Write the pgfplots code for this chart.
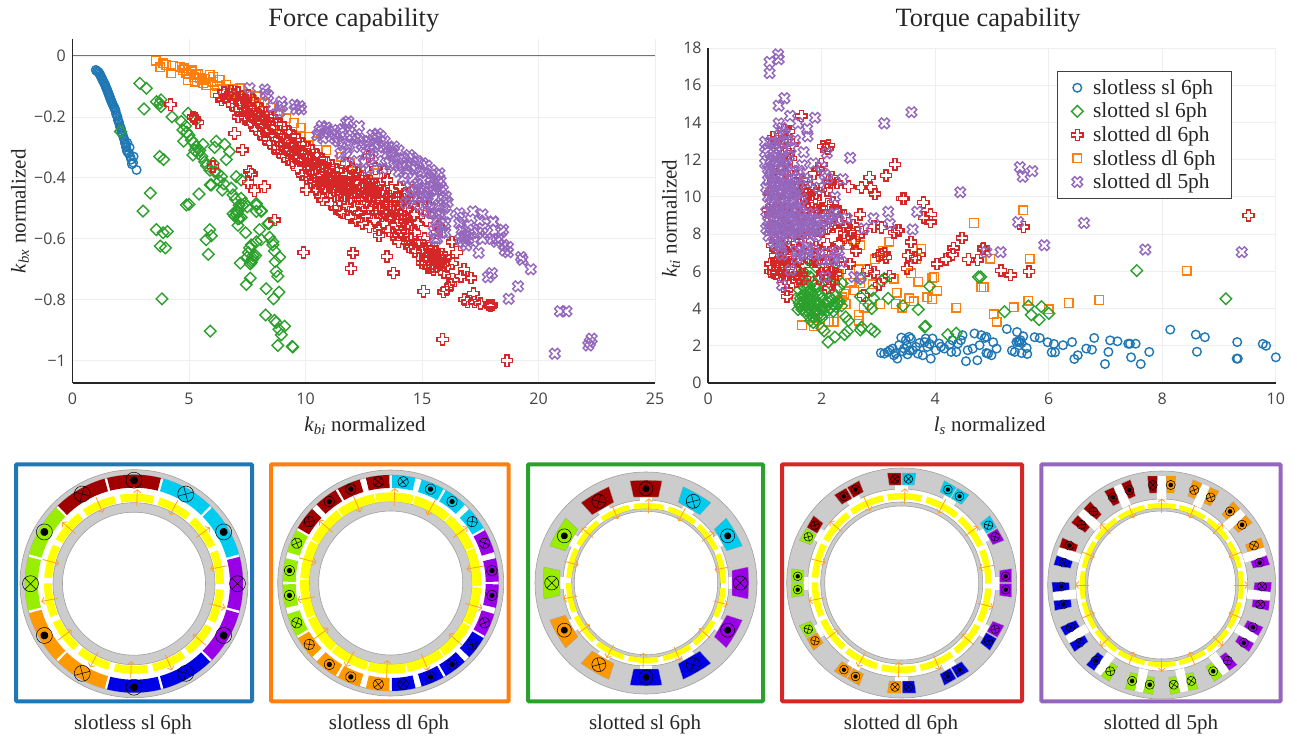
\documentclass[border=0pt]{standalone}
\usepackage{fontspec}
\usepackage{pgfplots}
\pgfplotsset{compat=1.18}
\usetikzlibrary{arrows.meta}
\setmainfont{Liberation Serif}
\newfontfamily\tickfont{Open Sans}
\definecolor{cblue}{HTML}{1F77B4}
\definecolor{cgreen}{HTML}{2CA02C}
\definecolor{cred}{HTML}{D62728}
\definecolor{corange}{HTML}{FF7F0E}
\definecolor{cpurple}{HTML}{9467BD}
\definecolor{gridc}{HTML}{EEEEEE}
\definecolor{tickc}{HTML}{444444}
\definecolor{statg}{HTML}{CCCCCC}
\definecolor{statl}{HTML}{A0A0A0}
\definecolor{magy}{HTML}{FFFF00}
\definecolor{arr}{HTML}{FFA01E}
\definecolor{kr}{HTML}{A00000}
\definecolor{kc}{HTML}{00CCF0}
\definecolor{kl}{HTML}{99EE00}
\definecolor{ko}{HTML}{FF9900}
\definecolor{kb}{HTML}{0000E6}
\definecolor{kp}{HTML}{9900E6}
\pgfdeclareplotmark{ocircle}{\pgfpathcircle{\pgfpointorigin}{4.3pt}\pgfusepathqstroke}
\pgfdeclareplotmark{osquare}{\pgfpathrectanglecorners{\pgfqpoint{-4.3pt}{-4.3pt}}{\pgfqpoint{4.3pt}{4.3pt}}\pgfusepathqstroke}
\pgfdeclareplotmark{odiamond}{\pgfpathmoveto{\pgfqpoint{0pt}{5.8pt}}\pgfpathlineto{\pgfqpoint{5.8pt}{0pt}}\pgfpathlineto{\pgfqpoint{0pt}{-5.8pt}}\pgfpathlineto{\pgfqpoint{-5.8pt}{0pt}}\pgfpathclose\pgfusepathqstroke}
\newcommand{\crosspoly}[2]{\pgfpathmoveto{\pgfqpoint{#2}{#2}}\pgfpathlineto{\pgfqpoint{#2}{#1}}\pgfpathlineto{\pgfqpoint{-#2}{#1}}\pgfpathlineto{\pgfqpoint{-#2}{#2}}\pgfpathlineto{\pgfqpoint{-#1}{#2}}\pgfpathlineto{\pgfqpoint{-#1}{-#2}}\pgfpathlineto{\pgfqpoint{-#2}{-#2}}\pgfpathlineto{\pgfqpoint{-#2}{-#1}}\pgfpathlineto{\pgfqpoint{#2}{-#1}}\pgfpathlineto{\pgfqpoint{#2}{-#2}}\pgfpathlineto{\pgfqpoint{#1}{-#2}}\pgfpathlineto{\pgfqpoint{#1}{#2}}\pgfpathclose\pgfusepathqstroke}
\pgfdeclareplotmark{ocross}{\crosspoly{5.6pt}{2pt}}
\pgfdeclareplotmark{ox}{\pgftransformrotate{45}\crosspoly{5.6pt}{1.9pt}}
\pgfplotsset{
 every axis title shift=0pt,
 sblue/.style={only marks,mark=ocircle,mark options={draw=cblue,line width=1.4pt}},
 sgreen/.style={only marks,mark=odiamond,mark options={draw=cgreen,line width=1.4pt}},
 sred/.style={only marks,mark=ocross,mark options={draw=cred,line width=1.4pt}},
 sorange/.style={only marks,mark=osquare,mark options={draw=corange,line width=1.4pt}},
 spurple/.style={only marks,mark=ox,mark options={draw=cpurple,line width=1.4pt}},
 panel/.style={scale only axis,axis x line=bottom,axis y line=left,axis line style={-,line width=1.7pt,black!85},
  tick style={draw=none},grid=major,major grid style={draw=gridc,line width=.8pt},
  tick label style={font=\tickfont\fontsize{16}{16}\selectfont,text=tickc},
  xtick pos=bottom,ytick pos=left,
  label style={font=\fontsize{21}{23}\selectfont,text=black!85},
  title style={font=\fontsize{26.4}{28}\selectfont,text=black!85,anchor=center},
  xlabel style={anchor=center},ylabel style={anchor=center,rotate=0},
  xticklabel style={yshift=-4pt},yticklabel style={xshift=-1pt}},
}
\newcommand{\ringg}[2]{\filldraw[fill=statg,draw=statl,line width=.6pt,even odd rule] (0,0) circle[radius=#1] (0,0) circle[radius=#2];}
\newcommand{\sect}[5]{\pgfmathsetmacro\sa{#3}\pgfmathsetmacro\sb{#4}\fill[#5] (\sa:#1) arc[start angle=\sa,end angle=\sb,radius=#1] -- (\sb:#2) arc[start angle=\sb,end angle=\sa,radius=#2] -- cycle;}
\newcommand{\coild}[1]{\draw[line width=.5pt,black] (0,0) circle[radius=#1]; \fill[black] (0,0) circle[radius=0.5*#1];}
\newcommand{\coilx}[1]{\draw[line width=.5pt,black] (0,0) circle[radius=#1] (-0.707*#1,-0.707*#1) -- (0.707*#1,0.707*#1) (-0.707*#1,0.707*#1) -- (0.707*#1,-0.707*#1);}
\newcommand{\mk}[4]{\begin{scope}[shift={(#1:#2)},rotate=#1]\csname coil#3\endcsname{#4}\end{scope}}
\newcommand{\magnets}[6]{\pgfmathtruncatemacro\nm{#1-1}
 \foreach \k in {0,...,\nm}{\pgfmathsetmacro\aa{#2+\k*360/#1}
  \sect{#3}{#4}{\aa-#5}{\aa+#5}{magy}}
 \foreach \k in {0,...,\nm}{\pgfmathsetmacro\aa{#2+\k*360/#1}\pgfmathsetmacro\rmid{(#3+#4)/2}\pgfmathtruncatemacro\odd{mod(\k,2)}
  \ifnum\odd=0 \draw[arr,line width=.8pt,-{Straight Barb[length=3pt,width=7pt]}] (\aa:\rmid-#6) -- (\aa:\rmid+#6);
  \else \draw[arr,line width=.8pt,-{Straight Barb[length=3pt,width=7pt]}] (\aa:\rmid+#6) -- (\aa:\rmid-#6);\fi}}
\newcommand{\frameb}[5]{\draw[#5,line width=4pt,rounded corners=1pt] (#1,#3) rectangle (#2,#4);}
\newcommand{\pairfour}[5]{\begin{scope}[rotate=#1]
 \fill[white] (93.5,-6.5) rectangle (98.5,6.5);
 \filldraw[fill=#2,draw=statl,line width=.3pt] (98,.7) -- (110,.7) -- (110,14.3) -- (98,12.5) -- cycle;
 \filldraw[fill=#4,draw=statl,line width=.3pt] (98,-.7) -- (110,-.7) -- (110,-14.3) -- (98,-12.5) -- cycle;
 \begin{scope}[shift={(104,6.7)}]\csname coil#3\endcsname{4.4}\end{scope}
 \begin{scope}[shift={(104,-6.7)}]\csname coil#5\endcsname{4.4}\end{scope}
 \end{scope}}
\newcommand{\pairfive}[5]{\begin{scope}[rotate=#1]
 \fill[white] (86,-4.5) -- (92,-4.5) -- (92,-11) -- (109,-14.5) -- (109,14.5) -- (92,11) -- (92,4.5) -- (86,4.5) -- cycle;
 \filldraw[fill=#2,draw=statl,line width=.3pt] (92,5) -- (109,4.3) -- (109,14.3) -- (92,12.3) -- cycle;
 \filldraw[fill=#4,draw=statl,line width=.3pt] (92,-5) -- (109,-4.3) -- (109,-14.3) -- (92,-12.3) -- cycle;
 \begin{scope}[shift={(100,9)}]\csname coil#3\endcsname{4.6}\end{scope}
 \begin{scope}[shift={(100,-9)}]\csname coil#5\endcsname{4.6}\end{scope}
 \end{scope}}
\begin{document}
\begin{tikzpicture}[x=1pt,y=1pt]
\useasboundingbox (0,0) rectangle (1297,740);
% ================= left panel
\begin{axis}[panel,at={(72.5pt,357pt)},anchor=south west,width=582.5pt,height=343.5pt,
 xmin=0,xmax=25,ymin=-1.0732,ymax=0.054,
 xtick={0,5,10,15,20,25},xticklabels={0,5,10,15,20,25},
 ytick={-1,-0.8,-0.6,-0.4,-0.2,0},yticklabels={−1,−0.8,−0.6,−0.4,−0.2,0},
 title={Force capability},title style={at={(axis description cs:0.483,1.0568)}},
 xlabel={\textit{k}\textsubscript{\textit{bi}} normalized},xlabel style={at={(axis description cs:0.502,-0.1255)}},
 ylabel={\textit{k}\textsubscript{\textit{bx}} normalized},ylabel style={at={(axis description cs:-0.0901,0.5)}},
]
\draw[black!55,line width=1pt] (axis cs:0,0) -- (axis cs:25,0);
% slotless sl 6ph
\addplot[sblue,forget plot] coordinates {(1.00,-.046)(1.05,-.05)(1.10,-.052)(1.14,-.056)(1.18,-.06)(1.2,-.065)(1.24,-.07)(1.27,-.075)(1.3,-.08)(1.33,-.085)(1.37,-.09)(1.4,-.095)(1.42,-.10)(1.45,-.105)(1.48,-.11)(1.5,-.115)(1.53,-.12)(1.55,-.125)(1.58,-.13)(1.6,-.135)(1.62,-.14)(1.65,-.145)(1.68,-.15)(1.7,-.155)(1.73,-.16)(1.76,-.165)(1.8,-.17)(1.82,-.175)(1.85,-.18)(1.87,-.19)(1.9,-.195)(1.93,-.20)(1.95,-.21)(1.98,-.215)(2.0,-.22)(2.03,-.23)(2.06,-.235)(2.08,-.24)(2.1,-.25)(2.13,-.255)(2.16,-.26)(2.2,-.27)(2.23,-.275)(2.25,-.285)(2.28,-.29)(2.3,-.30)(2.33,-.31)(2.36,-.315)(2.42,-.32)(2.48,-.33)(2.52,-.34)(2.55,-.355)(2.6,-.35)(2.75,-.374)(2.62,-.33)(2.35,-.285)(2.45,-.30)};
% slotless dl 6ph
\addplot[sorange,forget plot] coordinates {(3.57,-.016)(3.89,-.024)(3.77,-.037)(4.03,-.03)(4.24,-.057)(4.31,-.033)(4.6,-.035)(4.74,-.046)(4.89,-.057)(5.1,-.051)(4.96,-.079)(5.31,-.062)(5.46,-.073)(5.6,-.09)(5.89,-.062)(6.03,-.068)(6.31,-.079)(6.03,-.084)(6.6,-.095)(6.1,-.123)(7.17,-.106)(7.89,-.133)(8.24,-.155)(6.89,-.11)(7.53,-.128)(8.6,-.243)(9.17,-.205)(10.17,-.265)(11.53,-.33)(4.8,-.04)(5,-.06)(5.2,-.07)(5.15,-.045)(5.4,-.06)(5.55,-.08)(5.7,-.075)(5.25,-.085)(5.75,-.095)(6.2,-.1)(6.45,-.11)(6.75,-.12)(7,-.13)(8.5,-.17)(8.8,-.19)(9.5,-.22)(9.8,-.235)(10.5,-.28)(10.9,-.31)(11.9,-.35)(12.2,-.37)(7.7,-.145)(8,-.155)(13,-.385)};
% slotted sl 6ph
\addplot[sgreen,forget plot] coordinates {(2.89,-.09)(3.17,-.106)(3.07,-.174)(3.6,-.15)(3.8,-.144)(3.8,-.166)(4.27,-.2)(2.06,-.248)(3.74,-.33)(3.91,-.34)(3.34,-.45)(3.03,-.509)(4.89,-.489)(5,-.487)(5.43,-.453)(5.91,-.423)(4.67,-.215)(4.74,-.243)(4.96,-.188)(5.3,-.21)(5.1,-.276)(5.31,-.298)(5.46,-.31)(4.77,-.28)(5.17,-.325)(5.6,-.29)(6.17,-.28)(6.1,-.3)(6.53,-.29)(6.74,-.314)(6.6,-.34)(5.67,-.347)(6.03,-.352)(6.24,-.385)(6.39,-.396)(5.96,-.423)(6.43,-.44)(6.81,-.434)(7.03,-.396)(7.24,-.407)(6.89,-.456)(7.24,-.467)(7.39,-.484)(7.89,-.484)(8.1,-.51)(7.89,-.51)(7.03,-.51)(7.17,-.533)(8.39,-.55)(3.6,-.57)(3.89,-.58)(4.07,-.576)(3.77,-.624)(3.99,-.63)(3.84,-.797)(5.89,-.57)(5.96,-.59)(5.74,-.603)(5.83,-.651)(5.91,-.903)(7.1,-.556)(7.43,-.58)(8.03,-.57)(8.1,-.603)(7.89,-.61)(8.43,-.55)(8.46,-.595)(8.6,-.61)(8.67,-.64)(8.89,-.66)(8.7,-.675)(8.74,-.707)(8.81,-.723)(8.86,-.775)(8.63,-.797)(8.31,-.764)(8.29,-.85)(8.67,-.868)(8.74,-.875)(8.86,-.897)(9.1,-.887)(8.96,-.915)(8.81,-.95)(9.46,-.955)(9.43,-.953)(7.2,-.68)(7.63,-.729)(7.46,-.75)(7.67,-.62)(7.6,-.63)(7.86,-.655)(7.7,-.67)(7.63,-.682)(7.74,-.665)(7.67,-.677)(7.03,-.52)(7.1,-.535)(6.96,-.525)(7.24,-.53)(6.89,-.518)(7.1,-.51)(7.3,-.49)(7.5,-.495)(7.89,-.49)(8.1,-.507)(3.75,-.155)(4.85,-.23)(4.9,-.25)(5,-.26)(5.2,-.285)(5.25,-.31)(5.4,-.32)(5.55,-.33)(5.75,-.36)(5.9,-.375)(6.1,-.38)(6.3,-.41)(6.5,-.42)(7,-.47)(7.15,-.49)(8.6,-.62)(7.55,-.645)(7.5,-.66)(7.75,-.655)};
% slotted dl 6ph
\addplot[sred,forget plot] coordinates {(4.21,-.16)(5.17,-.2)(5.39,-.219)(5.25,-.205)(6.96,-.254)(7.29,-.308)(6.03,-.363)(7.67,-.387)(7.53,-.416)(7.81,-.442)(8.24,-.429)(7.6,-.38)(8.67,-.538)(9.91,-.645)
(6.3,-.13)(6.4,-.145)(6.5,-.12)(6.6,-.135)(6.7,-.15)(6.8,-.115)(6.85,-.16)(6.9,-.125)(7,-.14)(7.05,-.175)(7.1,-.12)(7.2,-.155)(7.25,-.19)(7.3,-.135)(7.35,-.17)(7.4,-.205)(7.45,-.15)(7.5,-.185)(7.55,-.13)(7.6,-.165)(7.65,-.22)(7.7,-.2)(7.75,-.145)(7.8,-.18)(7.85,-.24)(7.9,-.16)(7.95,-.215)(8,-.195)(8.05,-.255)(8.1,-.175)(8.15,-.23)(8.2,-.205)(8.25,-.27)(8.3,-.185)(8.35,-.245)(8.4,-.22)(8.45,-.285)(8.5,-.2)(8.55,-.26)(8.6,-.235)(8.65,-.3)(8.7,-.21)(8.75,-.275)(8.8,-.25)(8.85,-.315)(8.9,-.225)(8.95,-.29)(9,-.265)(9.05,-.33)(9.1,-.235)(9.15,-.305)(9.2,-.28)(9.25,-.34)(9.3,-.25)(9.35,-.32)(9.4,-.295)(9.45,-.35)(9.5,-.265)(9.55,-.33)(9.6,-.305)(9.65,-.37)(9.7,-.275)(9.75,-.345)(9.8,-.315)(9.85,-.39)(9.9,-.29)(9.95,-.355)(10,-.33)(10.03,-.44)(10.05,-.4)(10.1,-.3)(10.15,-.37)(10.2,-.345)(10.25,-.415)(10.3,-.31)(10.35,-.38)(10.4,-.355)(10.45,-.44)(10.5,-.325)(10.55,-.395)(10.6,-.365)(10.65,-.46)(10.7,-.34)(10.74,-.473)(10.8,-.41)(10.85,-.375)(10.9,-.445)(10.95,-.35)(11,-.425)(11.05,-.39)(11.1,-.485)(11.15,-.36)(11.2,-.44)(11.25,-.405)(11.3,-.5)(11.35,-.375)(11.4,-.455)(11.45,-.42)(11.5,-.51)(11.55,-.385)(11.6,-.515)(11.65,-.47)(11.7,-.43)(11.74,-.352)(11.8,-.49)(11.85,-.445)(11.9,-.405)(11.95,-.53)(12,-.37)(12.05,-.5)(12.1,-.46)(12.15,-.415)(12.2,-.54)(12.25,-.385)(12.3,-.515)(12.35,-.47)(12.4,-.43)(12.45,-.55)(12.5,-.395)(12.55,-.525)(12.6,-.48)(12.65,-.44)(12.7,-.33)(12.75,-.56)(12.8,-.41)(12.85,-.5)(12.9,-.455)(12.95,-.54)(13,-.37)(13.05,-.515)(13.1,-.47)(13.16,-.57)(13.2,-.42)(13.25,-.525)(13.3,-.48)(13.35,-.55)(13.4,-.38)(13.45,-.5)(13.5,-.407)(13.55,-.575)(13.6,-.46)(13.65,-.53)(13.7,-.44)(13.75,-.585)(13.8,-.51)(13.85,-.47)(13.9,-.555)(14,-.587)(14.05,-.43)(14.1,-.52)(14.15,-.48)(14.2,-.59)(14.25,-.54)(14.3,-.45)(14.35,-.61)(14.4,-.5)(14.45,-.627)(14.5,-.56)(14.6,-.44)(14.65,-.52)(14.7,-.64)(14.75,-.47)(14.8,-.55)(14.85,-.655)(14.9,-.61)(14.95,-.5)(15,-.68)(15.05,-.63)(15.1,-.46)(15.15,-.665)(15.2,-.54)(15.25,-.695)(15.3,-.494)(15.35,-.65)(15.4,-.68)(15.45,-.63)(15.5,-.7)(15.55,-.66)(15.6,-.69)(15.65,-.58)(15.7,-.56)(15.75,-.67)(15.8,-.7)(15.85,-.65)(15.9,-.685)(15.95,-.71)(16,-.66)(16.1,-.69)(14.8,-.55)(13.16,-.59)(14,-.61)(14.1,-.58)
(7.1,-.2)(7.5,-.16)(7.9,-.19)(8.1,-.22)(8.3,-.25)(8.55,-.2)(8.8,-.3)(9.1,-.27)(9.25,-.31)(9.45,-.29)(9.65,-.33)(9.7,-.3)(9.9,-.34)(10.1,-.36)(10.15,-.33)(10.35,-.41)(10.45,-.37)(10.55,-.42)(10.7,-.39)(10.75,-.36)(10.85,-.43)(10.95,-.4)(11,-.37)(11.1,-.41)(11.2,-.39)(11.25,-.44)(11.3,-.42)(11.4,-.4)(11.5,-.45)(11.55,-.43)(11.65,-.41)(11.7,-.46)(11.75,-.39)(11.8,-.44)(11.85,-.42)(11.95,-.47)(12,-.43)(12.05,-.39)(12.1,-.45)(12.2,-.41)(12.25,-.47)(12.3,-.44)(12.4,-.4)(12.45,-.46)(12.5,-.43)(12.6,-.41)(12.65,-.5)(12.7,-.46)(12.8,-.44)(12.85,-.42)(12.95,-.48)(13,-.45)(13.1,-.43)(13.2,-.5)(13.3,-.46)(13.35,-.44)(13.45,-.52)(13.5,-.48)(13.6,-.5)(13.7,-.47)(13.75,-.53)(13.85,-.5)(13.95,-.47)(14,-.54)(14.1,-.5)(14.2,-.47)(14.3,-.53)(14.4,-.55)(14.5,-.48)(14.55,-.6)(14.7,-.58)(14.85,-.62)(15,-.64)(15.1,-.6)(15.2,-.66)(15.3,-.63)(15.4,-.65)(15.5,-.67)(15.55,-.64)(15.6,-.66)(15.7,-.68)(15.8,-.66)(15.3,-.69)(15.15,-.68)(15.45,-.69)
(12.04,-.646)(11.95,-.698)(13.49,-.658)(13.78,-.712)(15.07,-.772)(15.93,-.774)(16.06,-.767)(16.25,-.75)(16.32,-.733)(16.68,-.723)(16.8,-.7)(17.1,-.728)(16.29,-.611)(16.49,-.644)(16.3,-.682)(17.2,-.78)(16.82,-.8)(16.96,-.807)(17.26,-.807)(17.5,-.812)(17.93,-.82)(17.87,-.817)(18,-.817)(15.89,-.93)(18.65,-1.0)};
% slotted dl 5ph
\addplot[spurple,forget plot] coordinates {(7.6,-.106)(8.29,-.123)(8.96,-.15)(8.6,-.166)(9.53,-.16)(9.81,-.175)(8.89,-.183)(9.6,-.175)(9.75,-.165)(8.25,-.11)(8.4,-.13)(9,-.165)(10.6,-.243)(10.81,-.254)(11.17,-.243)(11.74,-.22)(11.6,-.287)(10.7,-.23)(10.9,-.235)(11.3,-.26)(11.5,-.25)(11.84,-.215)(12.3,-.23)(12.87,-.259)(13.23,-.264)(13.8,-.297)(14.45,-.325)(15.03,-.352)(15.75,-.385)(16.03,-.461)(11.87,-.292)(12.73,-.308)(13.6,-.352)(14.38,-.385)(15.03,-.407)(15.46,-.428)(14.3,-.483)(15.39,-.516)(15.9,-.56)(16.6,-.516)(17.18,-.51)(17.6,-.52)(18.05,-.543)(18.48,-.57)(13,-.27)(13.1,-.255)(13.4,-.28)(13.55,-.3)(13.7,-.315)(14,-.31)(14.2,-.335)(14.6,-.335)(14.8,-.345)(15.2,-.36)(15.4,-.375)(15.6,-.39)(15.8,-.41)(12.1,-.3)(12.4,-.29)(12.6,-.32)(12.9,-.33)(13.1,-.345)(13.3,-.37)(13.8,-.36)(14,-.38)(14.2,-.4)(14.6,-.4)(14.8,-.42)(15.1,-.43)(15.3,-.445)(15.6,-.44)(15.8,-.43)(15.9,-.47)(15.7,-.49)(15.5,-.47)(15.2,-.48)(15,-.46)(14.8,-.465)(14.5,-.47)(15.6,-.54)(15.8,-.52)(15.95,-.5)(16.1,-.48)(15.5,-.575)(15.65,-.6)(15.85,-.58)(16,-.55)(12,-.26)(11.5,-.32)(11.75,-.33)(12.2,-.345)(12.5,-.35)(12.7,-.37)
(10.5,-.26)(10.75,-.27)(11,-.25)(11.25,-.27)(11.4,-.28)(11.6,-.24)(11.9,-.25)(12.15,-.27)(12.3,-.27)(12.5,-.28)(12.7,-.28)(12.95,-.29)(13.15,-.3)(13.35,-.3)(13.5,-.32)(13.75,-.33)(14,-.34)(14.15,-.36)(14.35,-.35)(14.55,-.36)(14.7,-.37)(14.95,-.38)(15.15,-.385)(15.35,-.4)(15.55,-.41)(15.7,-.42)(15.9,-.44)(14.45,-.43)(14.65,-.44)(14.9,-.44)(15.1,-.45)(15.25,-.46)(15.45,-.5)(15.65,-.52)(16.1,-.52)(15.7,-.56)(16,-.58)(15.55,-.6)(14.9,-.49)(15.15,-.51)
(16.75,-.53)(17.47,-.54)(18.05,-.545)(18.4,-.578)(16.9,-.622)(17.43,-.646)(18.69,-.627)(18.55,-.638)(18.69,-.644)(19.31,-.669)(19.67,-.7)(17.83,-.726)(18,-.713)(19.12,-.756)(18.72,-.797)(20.92,-.838)(21.2,-.838)(20.7,-.977)(22.28,-.928)(22.14,-.95)(22.2,-.94)(16.6,-.55)(16.7,-.57)(16.8,-.59)(16.65,-.6)(17,-.555)(17.2,-.57)(17.4,-.58)(17.6,-.565)(17.8,-.58)(18,-.6)(18.2,-.61)(18.3,-.6)(18.5,-.62)(17,-.6)(17.2,-.61)(17.6,-.6)(16.9,-.59)(16.75,-.61)(19.25,-.66)};
\end{axis}
% ================= right panel
\begin{axis}[panel,at={(708.3pt,357pt)},anchor=south west,width=567.5pt,height=335pt,
 xmin=0,xmax=10,ymin=0,ymax=18,
 xtick={0,2,4,6,8,10},xticklabels={0,2,4,6,8,10},
 ytick={0,2,...,18},yticklabels={0,2,4,6,8,10,12,14,16,18},
 title={Torque capability},title style={at={(axis description cs:0.493,1.0836)}},
 xlabel={\textit{l}\textsubscript{\textit{s}} normalized},xlabel style={at={(axis description cs:0.496,-0.1285)}},
 ylabel={\textit{k}\textsubscript{\textit{ti}} normalized},ylabel style={at={(axis description cs:-0.0657,0.49)}},
 legend style={at={(rel axis cs:0.6145,0.931)},anchor=north west,draw=black!75,line width=.9pt,fill=white,
  font=\fontsize{21.4}{21.4}\selectfont,text=black!85,row sep=3.2pt,inner xsep=14pt,inner ysep=6pt,
  /tikz/every odd column/.append style={column sep=8pt}},
 legend cell align=left,
]
\addlegendimage{sblue}\addlegendentry{slotless sl 6ph}
\addlegendimage{sgreen}\addlegendentry{slotted sl 6ph}
\addlegendimage{sred}\addlegendentry{slotted dl 6ph}
\addlegendimage{sorange}\addlegendentry{slotless dl 6ph}
\addlegendimage{spurple}\addlegendentry{slotted dl 5ph}
\addplot[sblue,forget plot] coordinates {(3.04,1.62)(3.1,1.58)(3.16,1.67)(3.2,1.76)(3.27,1.49)(3.33,1.31)(3.4,2.44)(3.36,2.03)(3.45,1.85)(3.48,2.3)(3.54,2.48)(3.57,2.39)(3.51,1.54)(3.6,1.76)(3.66,1.94)(3.69,1.58)(3.78,1.49)(3.81,2.2)(3.83,2.39)(3.86,1.94)(3.92,1.31)(3.95,2.39)(4.01,1.76)(4.07,2.12)(4.16,1.85)(4.28,1.67)(4.37,1.67)(4.4,2.12)(4.48,2.57)(4.45,2.3)(4.54,1.17)(4.57,1.76)(4.66,1.85)(4.69,2.66)(4.74,1.22)(4.78,2.03)(4.81,2.57)(4.9,2.48)(4.93,1.58)(3.3,1.6)(3.25,1.85)(3.42,1.7)(3.5,2)(3.55,1.75)(3.72,2.15)(3.9,2.1)(4.1,1.95)(4.25,2.05)(4.3,2.3)(4.87,2.42)(5.02,2.19)(4.9,1.61)(4.99,1.49)(5.08,1.85)(5.26,2.9)(5.44,2.74)(5.46,2.24)(5.52,2.15)(5.55,2.51)(5.35,1.74)(5.4,1.67)(5.52,1.61)(5.62,1.56)(5.61,1.88)(5.75,2.46)(5.84,2.42)(5.98,2.19)(6.09,2.1)(6.05,1.65)(6.11,1.65)(6.25,2.03)(6.41,2.2)(6.45,1.29)(6.51,1.49)(6.66,1.85)(6.76,1.79)(6.8,2.42)(6.99,1.02)(7.05,1.67)(7.08,2.29)(7.21,2.24)(7.4,2.11)(7.45,1.38)(7.53,2.11)(7.62,1.02)(7.77,1.67)(8.14,2.87)(8.59,2.6)(8.61,1.68)(8.75,2.46)(9.32,2.2)(9.31,1.31)(9.33,1.31)(9.77,2.1)(9.83,2.0)(10,1.38)(5.48,2.2)(5.5,2.3)(5.43,2.2)(7.43,2.11)};
\addplot[sorange,forget plot] coordinates {(4.68,8.6)(3.19,7.6)(2.68,7.4)(2.57,7.65)(2.45,7.4)(3.75,7.2)(3.66,6.65)(3.07,7.1)(2.93,6.65)(2.8,6.1)(2.65,6.1)(3.57,5.9)(3.7,5.45)(3.98,5.7)(4.03,4.95)(3.27,5.6)(3.32,4.85)(3.54,4.55)(3.62,4.4)(3.86,4.6)(3.95,4.5)(4.37,4.05)(4.85,5.15)(3.03,4.25)(3.3,4.25)(3.42,4.05)(2.74,4.05)(2.65,3.65)(2.65,3.35)(2.21,3.3)(2.12,3.3)(1.86,3.05)(2.36,4.6)(2.42,4.25)(2.57,5)(2.68,5.35)(2.39,4.8)(2.33,4.45)(2.21,3.75)(5.55,9.28)(4.97,6.67)(5.66,6.67)(4.81,5.15)(5.03,3.7)(5.08,3.3)(5.38,4.07)(5.64,4.42)(6,3.97)(6.35,4.3)(6.89,4.46)(8.43,6.04)(2.5,5.4)(2.3,5.85)(2.2,5.7)(1.65,3.1)(3.95,5.65)(2.9,5.3)};
\addplot[sgreen,forget plot] coordinates {(4.76,5.7)(3.9,5.2)(3.83,3.05)(3.81,3.02)(4.22,2.6)(4.37,2.68)(3.7,3.95)(3.43,4.15)(3.17,4.55)(2.88,4.97)(2.91,4.55)(2.83,4.2)(2.88,4)(2.68,4.65)(2.7,3)(2.68,2.85)(2.87,2.9)(2.93,2.77)(2.42,3.55)(2.47,3.35)(2.45,2.77)(2.4,2.6)(2.23,2.47)(2.11,2.2)(2.04,2.8)(2,2.95)(2.68,5.6)(2.36,5.35)(2.3,5.1)(2.18,6.05)(1.89,6.85)(1.74,6.65)(1.89,6.25)(1.55,4.55)(1.65,3.95)(7.55,6.04)(9.12,4.53)(5.64,4.13)(5.22,3.83)(5.69,3.66)(5.83,3.4)(5.87,4.1)(6,3.74)(4.8,5.7)(3.1,5.6)(3.05,5.5)
(1.6,5.8)(1.65,5.5)(1.7,5.9)(1.75,5.3)(1.8,5.7)(1.85,5.45)(1.9,5.1)(1.6,5)(1.65,4.7)(1.7,5.15)(1.75,4.85)(1.8,5)(1.85,4.7)(1.9,4.45)(1.95,4.8)(2,4.55)(2.05,4.3)(1.6,4.3)(1.65,4.2)(1.7,4.5)(1.75,4.25)(1.8,4.4)(1.85,4.1)(1.9,3.9)(1.95,4.2)(2,3.95)(2.05,4)(2.1,4.35)(2.15,4.6)(2.2,4.25)(2.25,4.1)(2.3,4.4)(2.35,4.15)(1.7,3.85)(1.75,3.65)(1.8,3.9)(1.85,3.55)(1.9,3.4)(1.95,3.7)(2,3.5)(2.1,3.9)(2.15,4)(2.2,3.85)(1.8,3.35)(1.85,3.25)(1.75,4.05)(1.58,3.95)(1.62,4.15)(2.25,4.7)(2.05,5)(2.12,5.4)
(1.72,4.1)(1.78,3.75)(1.82,4.2)(1.88,3.7)(1.92,4.3)(1.98,3.6)(2.02,4.1)(1.83,3.6)(1.87,4.3)(1.77,4.6)(1.68,4.35)(1.93,3.85)(1.78,5.2)(1.82,4.9)(1.88,5.25)(1.72,5.4)(1.7,4.7)(1.66,5.2)(1.62,4.55)(2.18,4.45)(2.28,4.25)};
\addplot[sred,forget plot] coordinates {(1.64,14.35)(1.14,13.2)(1.33,13.6)(1.42,13.5)(2.02,12.7)(2.12,12.75)(1.42,12.3)(1.45,12.05)(1.99,11.75)(1.86,11.25)(2.18,11.05)(2.27,10.75)(2.47,10.55)(2.84,11.05)(3.13,11.15)(3.29,11.75)(2.7,10.5)(2.86,10.5)(2.94,10.15)(3.42,9.9)(3.79,9.7)(3.92,9.05)(3.8,8.9)(3.91,8.65)(2.67,9.05)(1.05,9.3)(1.89,9.9)(2.09,10.35)(1.45,10.9)(1.62,10.55)(1.83,9.75)(2.24,9.3)(3.33,8.2)(3.45,9.9)(3.57,7.57)(3.36,8.2)(3.27,8.1)(4.47,7.8)(4.32,7.25)(4.3,6.9)(4.19,6.65)(4.03,6.4)(3.72,6.9)(3.64,6.75)(3.52,6.85)(3.5,6.15)(4.58,6.65)(4.74,6.6)(4.85,7.25)(2.92,8.4)(3,6.85)(3.13,6.75)(3.19,5.75)(3.01,5.3)(2.92,5.95)(2.73,4.7)(2.21,5.4)(2.12,5.1)(1.39,5)(1.39,4.65)(2.39,8.05)(2.57,7.6)(2.6,7.1)(2.5,6.4)(5.16,6.04)(5.33,5.8)(5.65,5.98)(5.55,8.38)(9.52,9)(4.84,7.2)(3.05,8.35)(3.1,6.95)(2.8,6.05)(3.05,6.9)(2.1,12.6)(1.95,11.5)(2.05,10.6)(2.15,10.8)(1.75,9.6)
(1.1,6)(1.15,6.2)(1.2,5.9)(1.25,6.3)(1.3,6)(1.35,6.2)(1.4,5.8)(1.1,6.4)(1.2,6.5)(1.3,6.6)(1.4,6.5)(1.25,5.7)(1.35,5.6)(1.45,6.1)(1.15,5.95)(1.28,6.8)(1.38,6.9)(1.18,6.85)(1.22,7.1)(1.32,7.2)(1.42,7.3)(1.12,7.4)(1.5,5.7)(1.6,5.6)(1.65,5.85)(1.55,5.45)(1.7,5.6)(1.95,5.6)(2,5.9)(2.1,5.7)(2.15,5.95)(2.2,5.6)(2.25,5.85)(1.5,7)(1.6,7.2)(1.7,7.45)(1.8,7.1)(1.9,7.3)(2,7)(2.1,7.45)(2.2,7.2)(2.3,7.5)(2.4,7.8)(1.2,7.7)(1.3,7.9)(1.4,8.1)(1.5,7.9)(1.6,8)(1.7,8.2)(1.8,8.05)(1.9,8.2)(2,8.15)(2.1,8.3)(2.2,8.4)(2.3,8.6)(1.15,8.4)(1.25,8.6)(1.35,8.5)(1.45,8.8)(1.55,8.6)(1.65,8.9)(1.75,8.7)(1.85,8.95)(1.95,8.8)(2.05,9)(2.15,8.9)(1.1,9)(1.2,9.4)(1.3,9.2)(1.4,9.5)(1.5,9.3)(1.6,9.55)(1.7,9.25)(1.1,10.2)(1.2,10)(1.3,10.3)(1.4,10.1)(1.5,10.4)(1.6,10.2)(1.7,10.35)(1.8,10.5)(1.15,10.9)(1.25,11.1)(1.35,11.3)(1.45,11.5)(1.2,11.8)(1.3,12)(1.35,12.4)(1.25,12.7)(1.3,13)(1.2,13.1)
(1.48,6.4)(1.58,6.5)(1.68,6.3)(1.78,6.6)(1.88,6.5)(1.98,6.3)(2.08,6.5)(2.18,6.3)(2.28,6.6)(2.38,6.2)(1.55,10.7)(1.65,10.9)(1.75,10.3)(1.85,10.4)(1.9,10.2)(1.55,11.1)(1.62,9.9)(1.72,9.9)(1.82,9.5)(1.9,9.3)(2,9.4)(2.1,9.6)(2.2,9.7)(2.3,9.2)(2.4,9)(2.4,8.4)(2.5,8.2)(2.55,8.5)(2.65,7.9)(2.7,8.1)(1.48,12.8)(1.38,13.2)};
\addplot[spurple,forget plot] coordinates {(1.23,17.65)(1.24,17.4)(1.08,17.25)(1.08,16.65)(1.34,15.3)(1.24,14.9)(1.44,14.35)(1.88,14.25)(1.24,13.95)(1.58,13.95)(1.74,13.65)(1.75,13.25)(3.1,13.95)(3.58,14.55)(2.5,12.1)(4.44,10.25)(1.53,13.05)(1.68,12.4)(1,12.95)(1,12.4)(1,11.8)(1.85,11.8)(2.09,12.35)(2.37,10.95)(2.23,10)(2.44,8.85)(2.91,8.85)(3.17,9.2)(3.68,9.2)(2.74,8.3)(3.2,8.55)(3.6,8.25)(5.49,11.6)(5.54,11.08)(5.71,11.38)(5.46,8.65)(6.62,8.6)(4.9,7.03)(5.15,7.03)(5.92,7.4)(7.7,7.17)(9.4,7.03)(1.45,6.06)(1.56,6.7)(1.74,7.15)(2.27,6.95)(2.06,5.7)(2.57,5.7)(2.68,5.65)(1.3,5.25)
(1.05,12.6)(1.1,12.9)(1.15,12.3)(1.2,12.7)(1.25,13.3)(1.3,13.7)(1.35,13.4)(1.4,13)(1.45,12.6)(1.1,12)(1.15,11.7)(1.2,12.2)(1.25,11.9)(1.3,12.4)(1.35,12)(1.05,11.5)(1.02,10.5)(1.05,10.9)(1.1,11.2)(1.15,10.8)(1.2,11.1)(1.25,10.6)(1.3,11)(1.35,10.7)(1.4,10.9)(1.45,10.4)(1.5,10.7)(1.55,11)(1.6,11.4)(1.65,11.7)(1.7,11)(1.75,10.8)(2,11.6)(2.05,11.2)(2.1,11)(1.95,10.5)(1.05,10)(1.1,9.7)(1.15,10.1)(1.2,9.6)(1.25,9.9)(1.3,9.4)(1.35,9.7)(1.4,9.2)(1.45,9.6)(1.5,9.9)(1.55,9.4)(1.6,9.75)(1.65,9.9)(1.02,9.2)(1.08,8.9)(1.12,9.4)(1.18,8.7)(1.22,9.1)(1.28,8.8)(1.32,9)(1.38,8.5)(1.42,8.9)(1.48,8.7)(1.52,9)(1.58,8.5)(1.62,8.8)(1.68,8.4)(1.72,8.7)(1.78,8.5)(1.82,8.8)(1.88,8.4)(1.92,8.7)(1.98,8.4)(2.02,8.8)(2.08,8.6)(2.12,9)(2.18,8.8)(2.22,9.1)(2.28,8.8)(1.02,8.3)(1.06,7.9)(1.1,8.4)(1.15,8.1)(1.2,7.8)(1.25,8.2)(1.3,8)(1.35,7.7)(1.4,8.2)(1.45,8)(1.5,8.3)(1.55,8.1)(1.6,7.8)(1.65,8.2)(1.7,8)(1.75,8.25)(1.8,8)(1.85,8.2)(1.9,7.9)(1.95,8.2)(1.2,7.4)(1.28,7.1)(1.3,6.9)(1.55,7.1)(1.62,6.95)(1.7,6.9)(1.75,7.3)(1.85,7.1)(2,6.6)(2.1,7)(2.15,6.6)(2.22,6.75)(2.3,7.1)(2.35,6.5)(1.9,6.9)
(1.08,11.4)(1.12,10.6)(1.18,10.3)(1.22,10.4)(1.28,10.2)(1.32,10.45)(1.38,10.2)(1.42,10.5)(1.48,10.1)(1.52,10.2)(1.58,10.5)(1.1,10.3)(1.14,9.2)(1.24,9.3)(1.34,9.3)(1.44,9.3)(1.54,9.2)(1.64,9.2)(1.18,11.5)(1.28,11.5)(1.38,11.6)(1.48,11.4)(1.22,12.1)(1.32,11.7)(1.42,12.2)(1.16,12.9)(1.32,12.9)(1.08,8.2)(1.18,8.3)(1.28,8.4)(1.35,8.25)(1.52,8.4)(1.14,7.6)(1.26,7.5)(1.05,8.7)(1.75,9.1)(1.85,9.1)};
\end{axis}
% ================= bottom panels
\frameb{16}{252}{38.7}{275.7}{cblue}
\frameb{271}{508.7}{38.7}{275.7}{corange}
\frameb{528}{763}{38.7}{275.7}{cgreen}
\frameb{782}{1022}{38.7}{275.7}{cred}
\frameb{1041.3}{1280.7}{38.7}{275.7}{cpurple}
\node[font=\fontsize{21}{23}\selectfont,text=black!85] at (133,15.5) {slotless sl 6ph};
\node[font=\fontsize{21}{23}\selectfont,text=black!85] at (389,15.5) {slotless dl 6ph};
\node[font=\fontsize{21}{23}\selectfont,text=black!85] at (645,15.5) {slotted sl 6ph};
\node[font=\fontsize{21}{23}\selectfont,text=black!85] at (901,15.5) {slotted dl 6ph};
\node[font=\fontsize{21}{23}\selectfont,text=black!85] at (1161,15.5) {slotted dl 5ph};
% P1
\begin{scope}[shift={(134,156.3)}]
\ringg{114}{109}
\foreach \a/\c in {90/kr,120/kr,150/kl,180/kl,210/ko,240/ko,270/kb,300/kb,330/kp,0/kp,30/kc,60/kc}{\sect{109}{96}{\a-14.3}{\a+14.3}{\c}}
\ringg{81}{71.5}
\magnets{14}{88}{82}{90}{11}{8.5}
\foreach \a/\t in {90/d,120/x,150/d,180/x,210/d,240/x,270/d,300/x,330/d,0/x,30/d,60/x}{\mk{\a}{103.5}{\t}{8}}
\end{scope}
% P2
\begin{scope}[shift={(390.7,157)}]
\ringg{113}{108}
\foreach \a/\c/\t in {97/kr/x,113/kr/d,127/kr/d,143/kr/x,157/kl/x,173/kl/d,187/kl/d,203/kl/x,217/ko/x,233/ko/d,247/ko/d,263/ko/x,277/kb/x,293/kb/d,307/kb/d,323/kb/x,337/kp/x,353/kp/d,7/kp/d,23/kp/x,37/kc/x,53/kc/d,67/kc/d,83/kc/x}{\sect{108}{95}{\a-6.3}{\a+6.3}{\c}\mk{\a}{102}{\t}{5.3}}
\ringg{81.5}{72}
\magnets{14}{87.5}{81.5}{90.6}{12.4}{9}
\end{scope}
% P3
\begin{scope}[shift={(646,157)}]
\ringg{111}{83}
\foreach \a/\c/\t in {90/kr/d,120/kr/x,150/kl/d,180/kl/x,210/ko/d,240/ko/x,270/kb/d,300/kb/x,330/kp/d,0/kp/x,30/kc/d,60/kc/x}{
 \begin{scope}[rotate=\a]\fill[white] (82.5,-6) rectangle (86.2,6);\filldraw[fill=\c,draw=statl,line width=.3pt] (86,-12.5) -- (102,-16) -- (102.6,-8) -- (102.8,0) -- (102.6,8) -- (102,16) -- (86,12.5) -- cycle;\end{scope}
 \mk{\a}{94.3}{\t}{7}}
\ringg{74.5}{71.7}
\magnets{14}{88}{74.5}{80}{11}{7.5}
\end{scope}
% P4
\begin{scope}[shift={(901.7,157)}]
\ringg{115}{94}
\pairfour{90}{kr}{x}{kc}{x}\pairfour{120}{kr}{d}{kr}{d}\pairfour{150}{kl}{x}{kr}{x}\pairfour{180}{kl}{d}{kl}{d}
\pairfour{210}{ko}{x}{kl}{x}\pairfour{240}{ko}{d}{ko}{d}\pairfour{270}{kb}{x}{ko}{x}\pairfour{300}{kb}{d}{kb}{d}
\pairfour{330}{kp}{x}{kb}{x}\pairfour{0}{kp}{d}{kp}{d}\pairfour{30}{kc}{x}{kp}{x}\pairfour{60}{kc}{d}{kc}{d}
\ringg{81}{77}
\magnets{14}{88}{83.5}{90}{11.3}{8}
\end{scope}
% P5
\begin{scope}[shift={(1161.7,155)}]
\ringg{114}{86}
\pairfive{90}{kr}{x}{ko}{d}\pairfive{114}{kr}{d}{kr}{d}\pairfive{138}{kr}{x}{kr}{x}\pairfive{162}{kb}{x}{kr}{d}
\pairfive{186}{kb}{d}{kb}{d}\pairfive{210}{kb}{x}{kb}{x}\pairfive{234}{kl}{x}{kb}{d}\pairfive{258}{kl}{d}{kl}{d}
\pairfive{282}{kl}{x}{kl}{x}\pairfive{306}{kp}{x}{kl}{d}\pairfive{330}{kp}{d}{kp}{d}\pairfive{354}{kp}{x}{kp}{x}
\pairfive{18}{ko}{x}{kp}{d}\pairfive{42}{ko}{d}{ko}{d}\pairfive{66}{ko}{x}{ko}{x}
\ringg{77}{74}
\magnets{16}{90}{77}{82}{10}{7}
\end{scope}
\end{tikzpicture}
\end{document}
